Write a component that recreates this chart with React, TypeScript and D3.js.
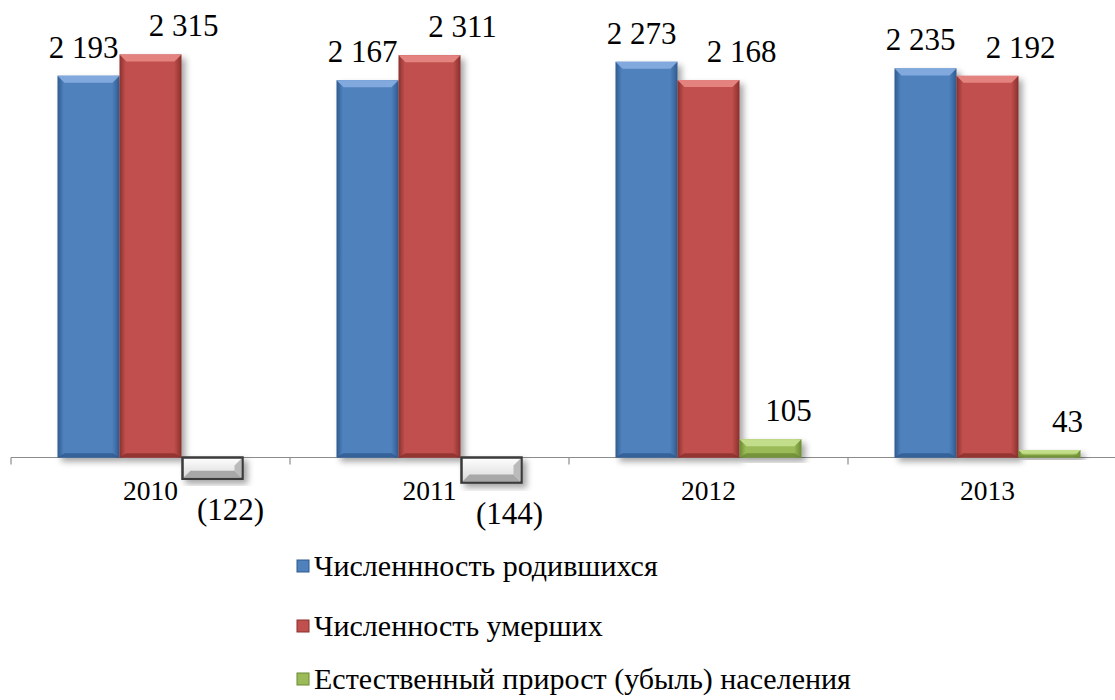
import React from "react";
import * as d3 from "d3";

// chart values
const years: string[] = ["2010", "2011", "2012", "2013"];
const births: number[] = [2193, 2167, 2273, 2235];
const deaths: number[] = [2315, 2311, 2168, 2192];
const growth: number[] = [-122, -144, 105, 43];
const seriesNames: string[] = [
    "Численнность родившихся",
    "Численность умерших",
    "Естественный прирост (убыль) населения",
];

const FONT = "Liberation Serif, Times New Roman, serif";

const App: React.FC = () => {
    const width = 1115;
    const height = 700;

    const series = [
        { key: "births", values: births, color: "#4f81bd", light: "#82a9de", dark: "#2f5a8f", dx: -5 },
        { key: "deaths", values: deaths, color: "#c0504d", light: "#e3827f", dark: "#8a2f2d", dx: 33 },
        { key: "growth", values: growth, color: "#9bbb59", light: "#c3de8a", dark: "#6a8a32", dx: 18 },
    ];

    const fmt = d3.formatLocale({ decimal: ",", thousands: " ", grouping: [3], currency: ["", ""] }).format(",d");
    const label = (v: number) => (v < 0 ? `(${fmt(-v)})` : fmt(v));

    // scales
    const x0 = d3.scaleBand<string>().domain(years).range([11, 11 + 4 * 279]).paddingInner(0).paddingOuter(0);
    const x1 = d3.scaleBand<string>()
        .domain(series.map(s => s.key))
        .range([0, x0.bandwidth()])
        .paddingInner(0)
        .paddingOuter(0.75);
    const y = d3.scaleLinear().domain([0, 2500]).range([457.5, 457.5 - 2500 * 0.1741]);
    const base = y(0);

    const bevel = 7;
    const legendY = [576, 636, 689];

    return (
        <svg width={width} height={height} style={{ position: "absolute", left: 0, top: 0, background: "#fff" }} fontFamily={FONT}>
            <defs>
                <filter id="shadow" x="-20%" y="-20%" width="150%" height="150%">
                    <feDropShadow dx="4" dy="4" stdDeviation="3" floodColor="#000" floodOpacity="0.35" />
                </filter>
                {series.map(s => (
                    <linearGradient key={s.key} id={`g-${s.key}`} x1="0" x2="1" y1="0" y2="0">
                        <stop offset="0" stopColor={s.dark} />
                        <stop offset="0.1" stopColor={s.color} />
                        <stop offset="0.88" stopColor={s.color} />
                        <stop offset="1" stopColor={s.dark} />
                    </linearGradient>
                ))}
                <linearGradient id="g-neg" x1="0" x2="0" y1="0" y2="1">
                    <stop offset="0" stopColor="#ffffff" />
                    <stop offset="1" stopColor="#d8d8d8" />
                </linearGradient>
            </defs>

            {/* axis line and ticks */}
            <line x1={11} x2={width} y1={base} y2={base} stroke="#8c8c8c" strokeWidth={1.2} />
            {years.map(yr => (
                <line key={`t-${yr}`} x1={x0(yr)!} x2={x0(yr)!} y1={base} y2={base + 7} stroke="#8c8c8c" strokeWidth={1.2} />
            ))}

            {/* bars */}
            {years.map((yr, i) => (
                <g key={yr}>
                    {series.map(s => {
                        const v = s.values[i];
                        const bx = x0(yr)! + x1(s.key)!;
                        const bw = x1.bandwidth();
                        const top = Math.min(y(v), base);
                        const h = Math.abs(y(v) - base);
                        const b = Math.min(bevel, h / 2);
                        if (v < 0) {
                            return (
                                <g key={s.key} filter="url(#shadow)">
                                    <rect x={bx + 1} y={top} width={bw - 2} height={h} fill="url(#g-neg)" stroke="#3a3a3a" strokeWidth={2.5} />
                                    <polygon
                                        points={`${bx + 2},${top + h - 1} ${bx + bw - 2},${top + h - 1} ${bx + bw - 2 - b},${top + h - 1 - b} ${bx + 2 + b},${top + h - 1 - b}`}
                                        fill="#a8a8a8"
                                    />
                                    <polygon
                                        points={`${bx + bw - 2},${top + 1} ${bx + bw - 2},${top + h - 1} ${bx + bw - 2 - b},${top + h - 1 - b} ${bx + bw - 2 - b},${top + 1 + b}`}
                                        fill="#bbbbbb"
                                    />
                                </g>
                            );
                        }
                        return (
                            <g key={s.key} filter="url(#shadow)">
                                <rect x={bx} y={top} width={bw} height={h} fill={`url(#g-${s.key})`} />
                                <polygon
                                    points={`${bx},${top} ${bx + bw},${top} ${bx + bw - b},${top + b} ${bx + b},${top + b}`}
                                    fill={s.light}
                                />
                                <polygon
                                    points={`${bx},${top + h} ${bx + bw},${top + h} ${bx + bw - b},${top + h - b * 0.6} ${bx + b},${top + h - b * 0.6}`}
                                    fill={s.dark}
                                    opacity={0.8}
                                />
                            </g>
                        );
                    })}
                </g>
            ))}

            {/* data labels */}
            {years.map((yr, i) => (
                <g key={`l-${yr}`}>
                    {series.map(s => {
                        const v = s.values[i];
                        const cx = x0(yr)! + x1(s.key)! + x1.bandwidth() / 2 + s.dx;
                        const ty = v < 0 ? y(v) + 41 : y(v) - 18;
                        return (
                            <text key={s.key} x={cx} y={ty} textAnchor="middle" fontSize={31} fill="#000">
                                {label(v)}
                            </text>
                        );
                    })}
                </g>
            ))}

            {/* category labels */}
            {years.map(yr => (
                <text key={`c-${yr}`} x={x0(yr)! + x0.bandwidth() / 2} y={500} textAnchor="middle" fontSize={27.5} fill="#000">
                    {yr}
                </text>
            ))}

            {/* legend */}
            {series.map((s, i) => (
                <g key={`lg-${s.key}`}>
                    <rect x={297} y={legendY[i] - 16} width={12} height={12} fill={s.color} stroke={s.dark} strokeWidth={1} />
                    <text x={314} y={legendY[i]} fontSize={30} fill="#000">
                        {seriesNames[i]}
                    </text>
                </g>
            ))}
        </svg>
    );
};

export default App;
